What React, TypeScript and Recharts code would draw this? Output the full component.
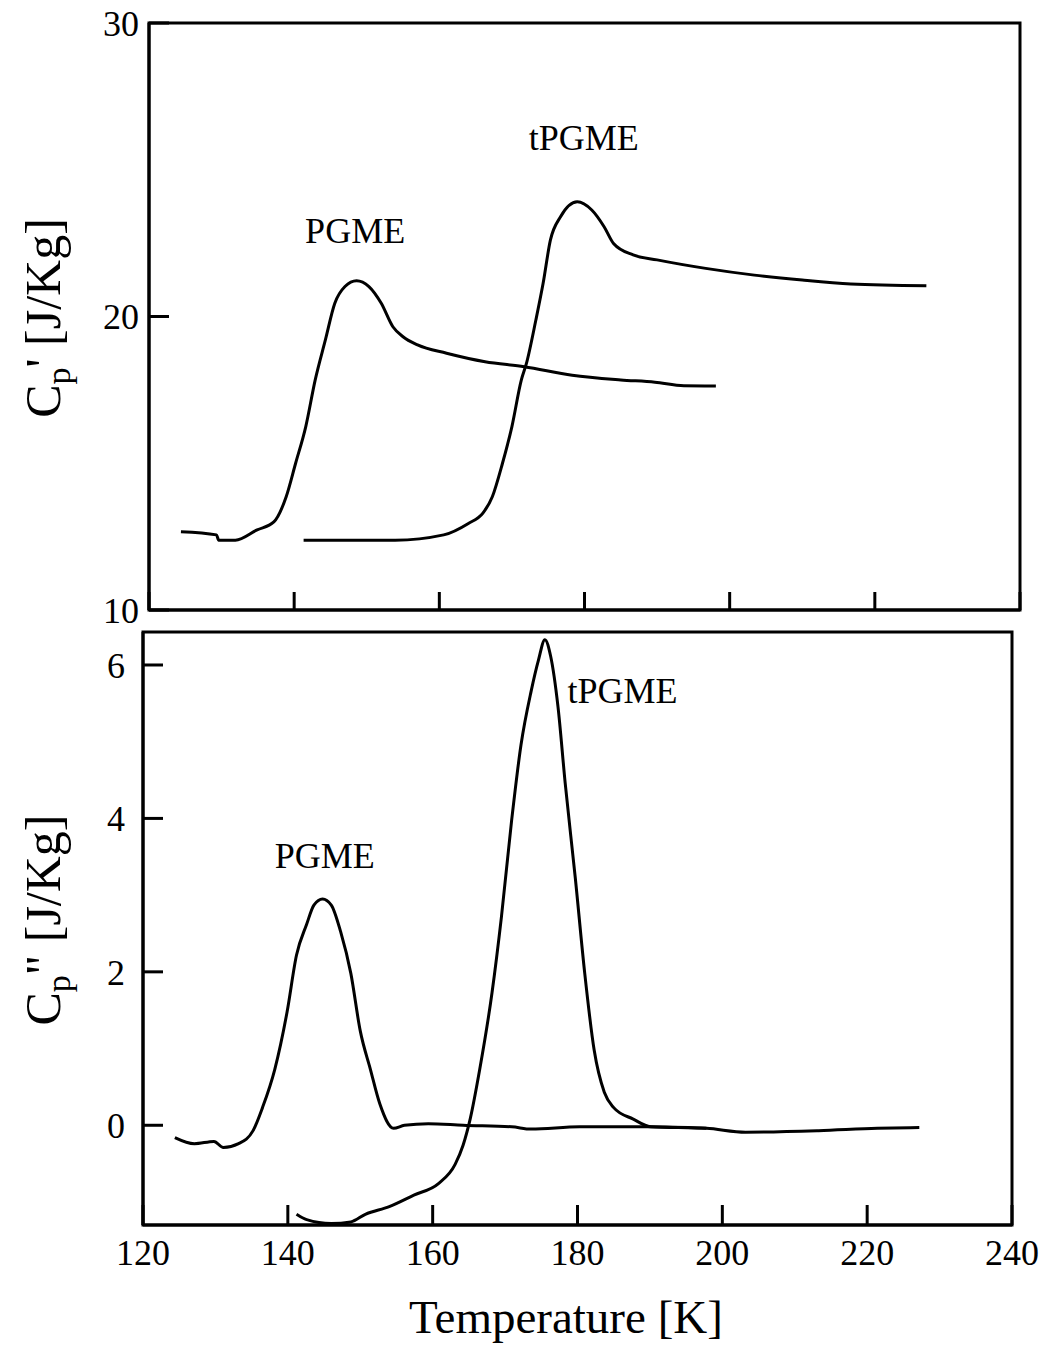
import React from 'react'
import { LineChart, Line, XAxis, YAxis, ReferenceArea, ReferenceDot } from 'recharts'

const FONT = '"Liberation Serif", "Times New Roman", serif'

// temperature ticks shared by both panels
const tempTicks = [120, 140, 160, 180, 200, 220, 240]
const realTicks = [10, 20, 30]
const imagTicks = [0, 2, 4, 6]

// Cp' (real part), PGME
const pgmeRealT = [124.4, 129.3, 129.6, 131.9, 134.9, 137.2, 138.9, 140.2, 141.6, 142.9, 144.3, 145.6, 147.0, 148.6, 150.3, 152.0, 153.6, 155.0, 157.0, 161.0, 166.3, 171.7, 178.3, 185.0, 189.7, 193.7, 198.1]
const pgmeRealV = [12.67, 12.56, 12.38, 12.38, 12.73, 13.0, 13.86, 15.0, 16.25, 17.84, 19.2, 20.45, 21.02, 21.22, 21.02, 20.45, 19.65, 19.31, 19.03, 18.75, 18.46, 18.29, 18.0, 17.84, 17.76, 17.64, 17.63]

// Cp' (real part), tPGME
const tpgmeRealT = [141.3, 153.9, 160.6, 164.0, 166.0, 167.3, 168.7, 170.0, 171.3, 172.0, 173.3, 174.3, 175.3, 176.7, 179.0, 181.0, 182.7, 184.0, 186.7, 190.0, 196.7, 203.4, 210.0, 216.7, 227.1]
const tpgmeRealV = [12.38, 12.38, 12.56, 12.95, 13.3, 13.86, 15.0, 16.25, 17.84, 18.4, 19.88, 21.13, 22.6, 23.4, 23.91, 23.63, 23.06, 22.49, 22.1, 21.93, 21.64, 21.41, 21.24, 21.11, 21.05]

// Cp'' (imaginary part), PGME
const pgmeImagT = [124.4, 127.1, 129.8, 131.1, 133.2, 135.2, 136.5, 138.2, 139.9, 141.2, 142.6, 143.6, 144.8, 146.0, 147.3, 148.7, 150.0, 151.4, 152.7, 154.6, 156.1, 159.4, 164.2, 170.9, 173.6, 180.3, 189.8, 197.8]
const pgmeImagV = [-0.16, -0.24, -0.21, -0.29, -0.24, -0.07, 0.23, 0.73, 1.48, 2.22, 2.62, 2.87, 2.95, 2.87, 2.52, 1.98, 1.23, 0.73, 0.28, -0.04, 0.0, 0.02, 0.0, -0.02, -0.05, -0.02, -0.02, -0.04]

// Cp'' (imaginary part), tPGME
const tpgmeImagT = [141.2, 142.6, 146.0, 148.7, 150.7, 154.0, 157.4, 160.8, 163.1, 164.2, 165.2, 166.5, 168.2, 169.5, 170.9, 172.2, 173.6, 174.6, 175.5, 176.3, 177.3, 178.3, 179.7, 181.0, 182.3, 183.7, 185.0, 187.7, 190.1, 197.8, 203.2, 213.3, 221.4, 227.2]
const tpgmeImagV = [-1.16, -1.23, -1.28, -1.26, -1.16, -1.06, -0.91, -0.76, -0.51, -0.26, 0.09, 0.73, 1.73, 2.72, 3.97, 4.96, 5.66, 6.06, 6.33, 6.11, 5.46, 4.46, 3.22, 1.98, 0.98, 0.43, 0.23, 0.08, -0.02, -0.04, -0.09, -0.07, -0.04, -0.03]

// curve labels
const realLabels = [
  { text: 'PGME', t: 148.4, v: 22.95 },
  { text: 'tPGME', t: 179.9, v: 26.1 },
]
const imagLabels = [
  { text: 'PGME', t: 145.1, v: 3.52 },
  { text: 'tPGME', t: 186.2, v: 5.67 },
]

const zip = (ts: number[], vs: number[]) => ts.map((t, i) => ({ t, v: vs[i] }))

const pgmeReal = zip(pgmeRealT, pgmeRealV)
const tpgmeReal = zip(tpgmeRealT, tpgmeRealV)
const pgmeImag = zip(pgmeImagT, pgmeImagV)
const tpgmeImag = zip(tpgmeImagT, tpgmeImagV)

const tickStyle = { fontSize: 36, fill: '#000', fontFamily: FONT }
const axisStroke = { stroke: '#000', strokeWidth: 3 }

function YTitle({ x, y, prime }: { x: number; y: number; prime: string }) {
  return (
    <text
      x={x}
      y={y}
      transform={`rotate(-90, ${x}, ${y})`}
      textAnchor="middle"
      fontFamily={FONT}
      fontSize={50}
      fill="#000"
    >
      C<tspan dy={10} fontSize={34}>p</tspan>
      <tspan dy={-10}>{prime}  [J/Kg]</tspan>
    </text>
  )
}

function CurveLabels({ items }: { items: { text: string; t: number; v: number }[] }) {
  return (
    <>
      {items.map((l) => (
        <ReferenceDot
          key={l.text}
          x={l.t}
          y={l.v}
          r={1}
          fill="none"
          stroke="none"
          label={{ value: l.text, position: 'center', fontSize: 36, fill: '#000', fontFamily: FONT }}
        />
      ))}
    </>
  )
}

export default function App() {
  return (
    <div style={{ position: 'absolute', left: 0, top: 0, width: 1047, height: 1346, background: '#fff' }}>
      <div style={{ position: 'absolute', left: 0, top: 0 }}>
        <LineChart width={1047} height={640} margin={{ top: 23, right: 27, bottom: 0, left: 0 }}>
          <XAxis
            dataKey="t"
            type="number"
            domain={[120, 240]}
            ticks={tempTicks}
            interval={0}
            allowDataOverflow
            height={30}
            tick={() => <g />}
            tickSize={-18}
            axisLine={axisStroke}
            tickLine={axisStroke}
          />
          <YAxis
            type="number"
            domain={[10, 30]}
            ticks={realTicks}
            interval={0}
            allowDataOverflow
            width={149}
            tickSize={-20}
            tickMargin={30}
            tick={tickStyle}
            axisLine={axisStroke}
            tickLine={axisStroke}
            label={{ content: () => <YTitle x={60} y={318} prime="'" /> }}
          />
          <ReferenceArea x1={120} x2={240} y1={10} y2={30} fill="none" stroke="#000" strokeWidth={3} />
          <Line data={pgmeReal} dataKey="v" type="monotone" stroke="#000" strokeWidth={3} dot={false} isAnimationActive={false} />
          <Line data={tpgmeReal} dataKey="v" type="monotone" stroke="#000" strokeWidth={3} dot={false} isAnimationActive={false} />
          {CurveLabels({ items: realLabels })}
        </LineChart>
      </div>
      <div style={{ position: 'absolute', left: 0, top: 620 }}>
        <LineChart width={1047} height={726} margin={{ top: 12, right: 35, bottom: 0, left: 0 }}>
          <XAxis
            dataKey="t"
            type="number"
            domain={[120, 240]}
            ticks={tempTicks}
            interval={0}
            allowDataOverflow
            height={121}
            tickSize={-20}
            tickMargin={34}
            tick={tickStyle}
            axisLine={axisStroke}
            tickLine={axisStroke}
            label={{
              content: () => (
                <text x={566} y={713} textAnchor="middle" fontFamily={FONT} fontSize={47} fill="#000">
                  Temperature [K]
                </text>
              ),
            }}
          />
          <YAxis
            type="number"
            domain={[-1.3, 6.43]}
            ticks={imagTicks}
            interval={0}
            allowDataOverflow
            width={143}
            tickSize={-20}
            tickMargin={38}
            tick={tickStyle}
            axisLine={axisStroke}
            tickLine={axisStroke}
            label={{ content: () => <YTitle x={60} y={300} prime={'"'} /> }}
          />
          <ReferenceArea x1={120} x2={240} y1={-1.3} y2={6.43} fill="none" stroke="#000" strokeWidth={3} />
          <Line data={pgmeImag} dataKey="v" type="monotone" stroke="#000" strokeWidth={3} dot={false} isAnimationActive={false} />
          <Line data={tpgmeImag} dataKey="v" type="monotone" stroke="#000" strokeWidth={3} dot={false} isAnimationActive={false} />
          {CurveLabels({ items: imagLabels })}
        </LineChart>
      </div>
    </div>
  )
}
